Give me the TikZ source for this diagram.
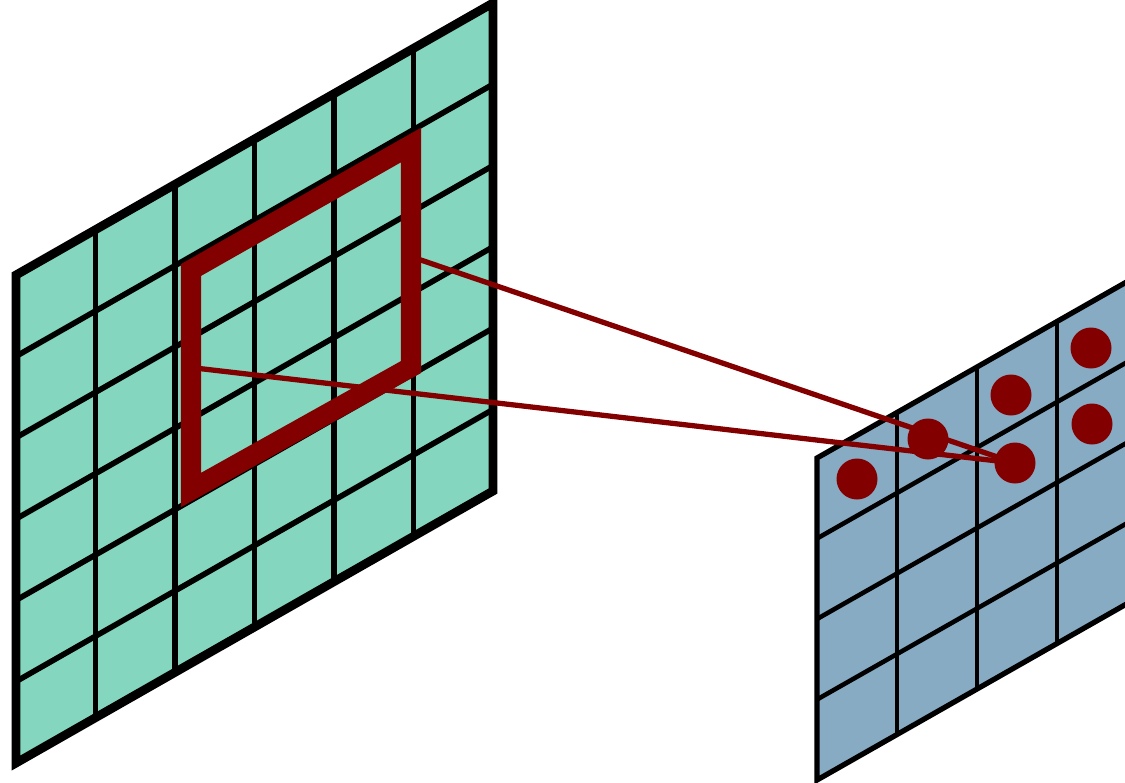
\documentclass[tikz,border=0pt]{standalone}
\usepackage{tikz}
\usetikzlibrary{positioning}
\definecolor{mapgreen}{RGB}{132,215,190}
\definecolor{mapblue}{RGB}{136,171,196}
\definecolor{kernred}{RGB}{130,0,0}

\begin{document}
\begin{tikzpicture}[
        x=0.02cm, y=-0.02cm,
        gridline/.style={black, line width=3.2pt},
        gridframe/.style={black, line width=5pt, line join=miter},
        featline/.style={black, line width=2.6pt},
        featframe/.style={black, line width=3pt, line join=miter},
        feat/.style={circle, fill=kernred, inner sep=0pt, minimum size=0.82cm},
        ray/.style={kernred, line width=3pt}
    ]
        \clip (0,0) rectangle (1125,782);

        % input map (6 x 6)
        \fill[mapgreen] (16,275) -- (493,3) -- (493,491) -- (16,763) -- cycle;
        \foreach \i in {1,...,5} {
            \draw[gridline] (16+79.5*\i, 275-45.3*\i) -- (16+79.5*\i, 763-45.3*\i);
            \draw[gridline] (16, 275+81.3*\i) -- (493, 3+81.3*\i);
        }
        \draw[gridframe] (16,275) -- (493,3) -- (493,491) -- (16,763) -- cycle;

        % receptive window
        \draw[kernred, line width=11.5pt, line join=miter] (191,270) -- (411,145) -- (411,367) -- (191,490) -- cycle;
        \coordinate (wR) at (415,258);
        \coordinate (wL) at (195,368);

        % feature map (4 x 4)
        \fill[mapblue] (817,458) -- (1137,276) -- (1137,598) -- (817,780) -- cycle;
        \foreach \i in {1,...,3} {
            \draw[featline] (817+80*\i, 458-45.6*\i) -- (817+80*\i, 780-45.6*\i);
            \draw[featline] (817, 458+80.5*\i) -- (1137, 276+80.5*\i);
        }
        \draw[featframe] (817,458) -- (1137,276) -- (1137,598) -- (817,780) -- cycle;

        \node[feat] (d1) at (857,479) {};
        \node[feat] (d2) at (928,439) {};
        \node[feat] (d3) at (1011,395) {};
        \node[feat] (d4) at (1015,463) {};
        \node[feat] (d5) at (1091,348) {};
        \node[feat] (d6) at (1092,424) {};

        \draw[ray] (wR) -- (d4.center);
        \draw[ray] (wL) -- (d4.center);
    \end{tikzpicture}
\end{document}
